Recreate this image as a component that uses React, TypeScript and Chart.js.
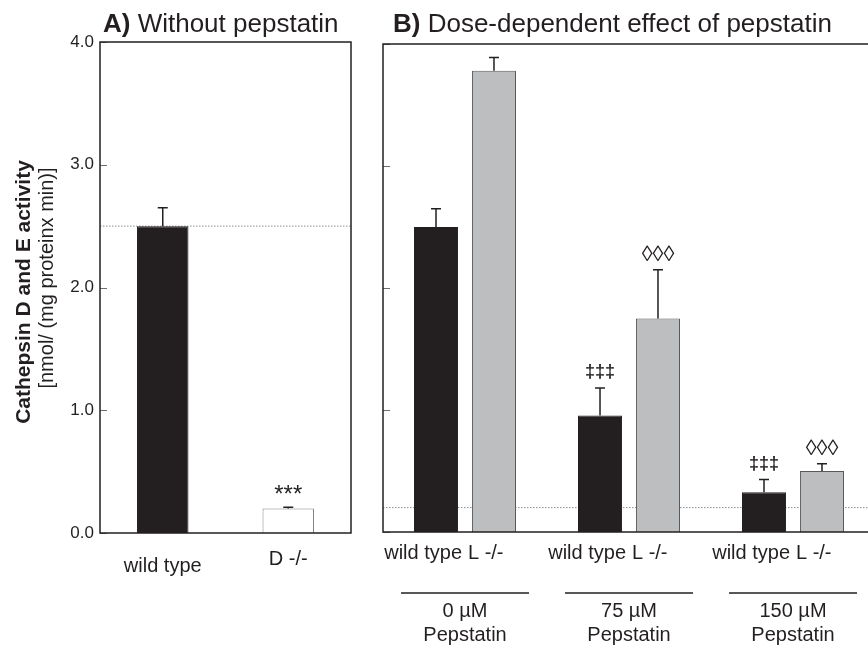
import { useEffect, useRef } from "react";
import { Chart, registerables } from "chart.js";

Chart.register(...registerables);

// ---- Panel A: cathepsin D/E activity without pepstatin ----
const genotypesA = ["wild type", "D -/-"];
const activityA = [2.5, 0.2];
const errorA = [0.15, 0.01];
const markA = ["", "***"];

// ---- Panel B: dose-dependent effect of pepstatin ----
const doses = ["0 µM", "75 µM", "150 µM"];
const doseCaption = "Pepstatin";
const seriesB = ["wild type", "L -/-"];
const wildTypeB = [2.5, 0.955, 0.325];
const wildTypeErrB = [0.15, 0.225, 0.105];
const knockoutLB = [3.78, 1.75, 0.5];
const knockoutLErrB = [0.11, 0.4, 0.06];
const wildTypeMarkB = ["", "‡‡‡", "‡‡‡"];
const knockoutLMarkB = ["", "◊◊◊", "◊◊◊"];

const yTicks = [0, 1, 2, 3, 4];

const INK = "#231f20";
const GREY_BAR = "#bcbec0";
const FONT = "'Liberation Sans', Arial, Helvetica, sans-serif";

Chart.defaults.font.family = FONT;
Chart.defaults.color = INK;

// font and lift above the error cap for each significance symbol
function markStyle(mark: string): { font: string; gap: number } {
  if (mark.startsWith("‡")) return { font: `bold 18px ${FONT}`, gap: 11 };
  if (mark.startsWith("◊")) return { font: `22px ${FONT}`, gap: 9 };
  return { font: `24px ${FONT}`, gap: 5 };
}

function drawDotted(chart: any, value: number) {
  const { ctx, chartArea } = chart;
  const y = chart.scales.y.getPixelForValue(value);
  ctx.save();
  ctx.strokeStyle = "#6d6e71";
  ctx.lineWidth = 0.8;
  ctx.setLineDash([1.5, 1.5]);
  ctx.beginPath();
  ctx.moveTo(chartArea.left, y);
  ctx.lineTo(chartArea.right, y);
  ctx.stroke();
  ctx.restore();
}

function drawFrame(chart: any) {
  const { ctx, chartArea } = chart;
  const ys = chart.scales.y;
  ctx.save();
  // inward tick marks on the value axis
  ctx.strokeStyle = "#6d6e71";
  ctx.lineWidth = 1;
  for (const t of yTicks) {
    const y = Math.round(ys.getPixelForValue(t)) + 0.5;
    ctx.beginPath();
    ctx.moveTo(chartArea.left, y);
    ctx.lineTo(chartArea.left + 7, y);
    ctx.stroke();
  }
  ctx.strokeStyle = INK;
  ctx.lineWidth = 1.5;
  ctx.strokeRect(
    chartArea.left,
    chartArea.top,
    chartArea.right - chartArea.left,
    chartArea.bottom - chartArea.top
  );
  ctx.restore();
}

function drawErrorBars(chart: any, di: number, values: number[], errs: number[], marks: string[]) {
  const { ctx } = chart;
  const ys = chart.scales.y;
  const meta = chart.getDatasetMeta(di);
  ctx.save();
  ctx.strokeStyle = INK;
  ctx.lineWidth = 1.5;
  meta.data.forEach((bar: any, i: number) => {
    const yTop = ys.getPixelForValue(values[i]);
    const yErr = ys.getPixelForValue(values[i] + errs[i]);
    ctx.beginPath();
    ctx.moveTo(bar.x, yTop);
    ctx.lineTo(bar.x, yErr);
    ctx.moveTo(bar.x - 5, yErr);
    ctx.lineTo(bar.x + 5, yErr);
    ctx.stroke();
    if (marks[i]) {
      const st = markStyle(marks[i]);
      ctx.fillStyle = INK;
      ctx.textAlign = "center";
      ctx.textBaseline = "alphabetic";
      ctx.font = st.font;
      ctx.fillText(marks[i], bar.x, yErr - st.gap);
    }
  });
  ctx.restore();
}

function drawPanelTitle(ctx: CanvasRenderingContext2D, x: number, y: number, tag: string, text: string) {
  ctx.save();
  ctx.fillStyle = INK;
  ctx.textAlign = "left";
  ctx.textBaseline = "alphabetic";
  ctx.font = `bold 26px ${FONT}`;
  ctx.fillText(tag, x, y);
  const w = ctx.measureText(tag).width;
  ctx.font = `26px ${FONT}`;
  ctx.fillText(" " + text, x + w, y);
  ctx.restore();
}

const panelAPlugin = {
  id: "panelA",
  beforeDatasetsDraw(chart: any) {
    drawDotted(chart, activityA[0]);
  },
  afterDatasetsDraw(chart: any) {
    drawFrame(chart);
    drawErrorBars(chart, 0, activityA, errorA, markA);
  },
  afterDraw(chart: any) {
    const { ctx } = chart;
    drawPanelTitle(ctx, 103, 32, "A)", "Without pepstatin");

    // category labels
    const meta = chart.getDatasetMeta(0);
    const baselines = [572, 565];
    ctx.save();
    ctx.fillStyle = INK;
    ctx.textAlign = "center";
    ctx.font = `20px ${FONT}`;
    meta.data.forEach((bar: any, i: number) => {
      ctx.fillText(genotypesA[i], bar.x, baselines[i]);
    });

    // value axis title (two lines, different weights)
    ctx.save();
    ctx.translate(24, 292);
    ctx.rotate(-Math.PI / 2);
    ctx.textBaseline = "middle";
    ctx.font = `bold 21px ${FONT}`;
    ctx.fillText("Cathepsin D and E activity", 0, 0);
    ctx.restore();
    ctx.save();
    ctx.translate(47, 278);
    ctx.rotate(-Math.PI / 2);
    ctx.textAlign = "center";
    ctx.textBaseline = "middle";
    ctx.fillStyle = INK;
    ctx.font = `20px ${FONT}`;
    ctx.fillText("[nmol/ (mg proteinx min)]", 0, 0);
    ctx.restore();
    ctx.restore();
  },
};

const panelBPlugin = {
  id: "panelB",
  beforeDatasetsDraw(chart: any) {
    drawDotted(chart, activityA[1]);
  },
  afterDatasetsDraw(chart: any) {
    drawFrame(chart);
    drawErrorBars(chart, 0, wildTypeB, wildTypeErrB, wildTypeMarkB);
    drawErrorBars(chart, 1, knockoutLB, knockoutLErrB, knockoutLMarkB);
  },
  afterDraw(chart: any) {
    const { ctx } = chart;
    drawPanelTitle(ctx, 393, 32, "B)", "Dose-dependent effect of pepstatin");

    const xs = chart.scales.x;
    const wt = chart.getDatasetMeta(0).data;
    const ko = chart.getDatasetMeta(1).data;
    ctx.save();
    ctx.fillStyle = INK;
    ctx.strokeStyle = INK;
    ctx.font = `20px ${FONT}`;
    ctx.textBaseline = "alphabetic";
    doses.forEach((dose, i) => {
      // genotype labels under each pair of bars
      ctx.textAlign = "right";
      ctx.fillText(seriesB[0], wt[i].x + wt[i].width / 2 + 4, 559);
      ctx.textAlign = "left";
      ctx.fillText(seriesB[1], ko[i].x - ko[i].width / 2 - 4, 559);

      // dose bracket and caption
      const cx = xs.getPixelForValue(i);
      ctx.lineWidth = 1.5;
      ctx.beginPath();
      ctx.moveTo(cx - 64, 593);
      ctx.lineTo(cx + 64, 593);
      ctx.stroke();
      ctx.textAlign = "center";
      ctx.fillText(dose, cx, 617);
      ctx.fillText(doseCaption, cx, 641);
    });
    ctx.restore();
  },
};

const valueAxis = (showLabels: boolean, width: number) => ({
  min: 0,
  max: 4,
  afterFit: (s: any) => {
    s.width = width;
  },
  afterBuildTicks: (s: any) => {
    s.ticks = yTicks.map((v) => ({ value: v }));
  },
  grid: { display: false, drawTicks: false },
  border: { display: false },
  ticks: {
    display: showLabels,
    padding: 6,
    color: INK,
    font: { size: 17, family: FONT },
    callback: (v: any) => Number(v).toFixed(1),
  },
});

const categoryAxis = (height: number) => ({
  afterFit: (s: any) => {
    s.height = height;
  },
  grid: { display: false, drawTicks: false },
  border: { display: false },
  ticks: { display: false },
});

export default function App() {
  const refA = useRef<HTMLCanvasElement>(null);
  const refB = useRef<HTMLCanvasElement>(null);

  useEffect(() => {
    const chartA = new Chart(refA.current!, {
      type: "bar",
      data: {
        labels: genotypesA,
        datasets: [
          {
            data: activityA,
            backgroundColor: [INK, "#ffffff"],
            borderColor: [INK, "#808285"],
            borderWidth: 1,
            barPercentage: 0.82,
            categoryPercentage: 0.5,
          },
        ],
      },
      options: {
        responsive: false,
        animation: false,
        layout: { padding: { top: 42, right: 517, bottom: 0, left: 0 } },
        plugins: { legend: { display: false }, tooltip: { enabled: false } },
        scales: { x: categoryAxis(117), y: valueAxis(true, 100) } as any,
      },
      plugins: [panelAPlugin],
    });

    const chartB = new Chart(refB.current!, {
      type: "bar",
      data: {
        labels: doses,
        datasets: [
          {
            label: seriesB[0],
            data: wildTypeB,
            backgroundColor: INK,
            borderColor: INK,
            borderWidth: 1,
            barPercentage: 0.76,
            categoryPercentage: 0.707,
          },
          {
            label: seriesB[1],
            data: knockoutLB,
            backgroundColor: GREY_BAR,
            borderColor: "#58595b",
            borderWidth: 1,
            barPercentage: 0.76,
            categoryPercentage: 0.707,
          },
        ],
      },
      options: {
        responsive: false,
        animation: false,
        layout: { padding: { top: 44, right: 25, bottom: 0, left: 0 } },
        plugins: { legend: { display: false }, tooltip: { enabled: false } },
        scales: { x: categoryAxis(118), y: valueAxis(false, 383) } as any,
      },
      plugins: [panelBPlugin],
    });

    return () => {
      chartA.destroy();
      chartB.destroy();
    };
  }, []);

  return (
    <div
      style={{
        position: "absolute",
        left: 0,
        top: 0,
        width: 868,
        height: 650,
        overflow: "hidden",
        background: "#ffffff",
      }}
    >
      <canvas
        ref={refA}
        width={868}
        height={650}
        style={{ position: "absolute", left: 0, top: 0, width: 868, height: 650 }}
      />
      <canvas
        ref={refB}
        width={900}
        height={650}
        style={{ position: "absolute", left: 0, top: 0, width: 900, height: 650 }}
      />
    </div>
  );
}
